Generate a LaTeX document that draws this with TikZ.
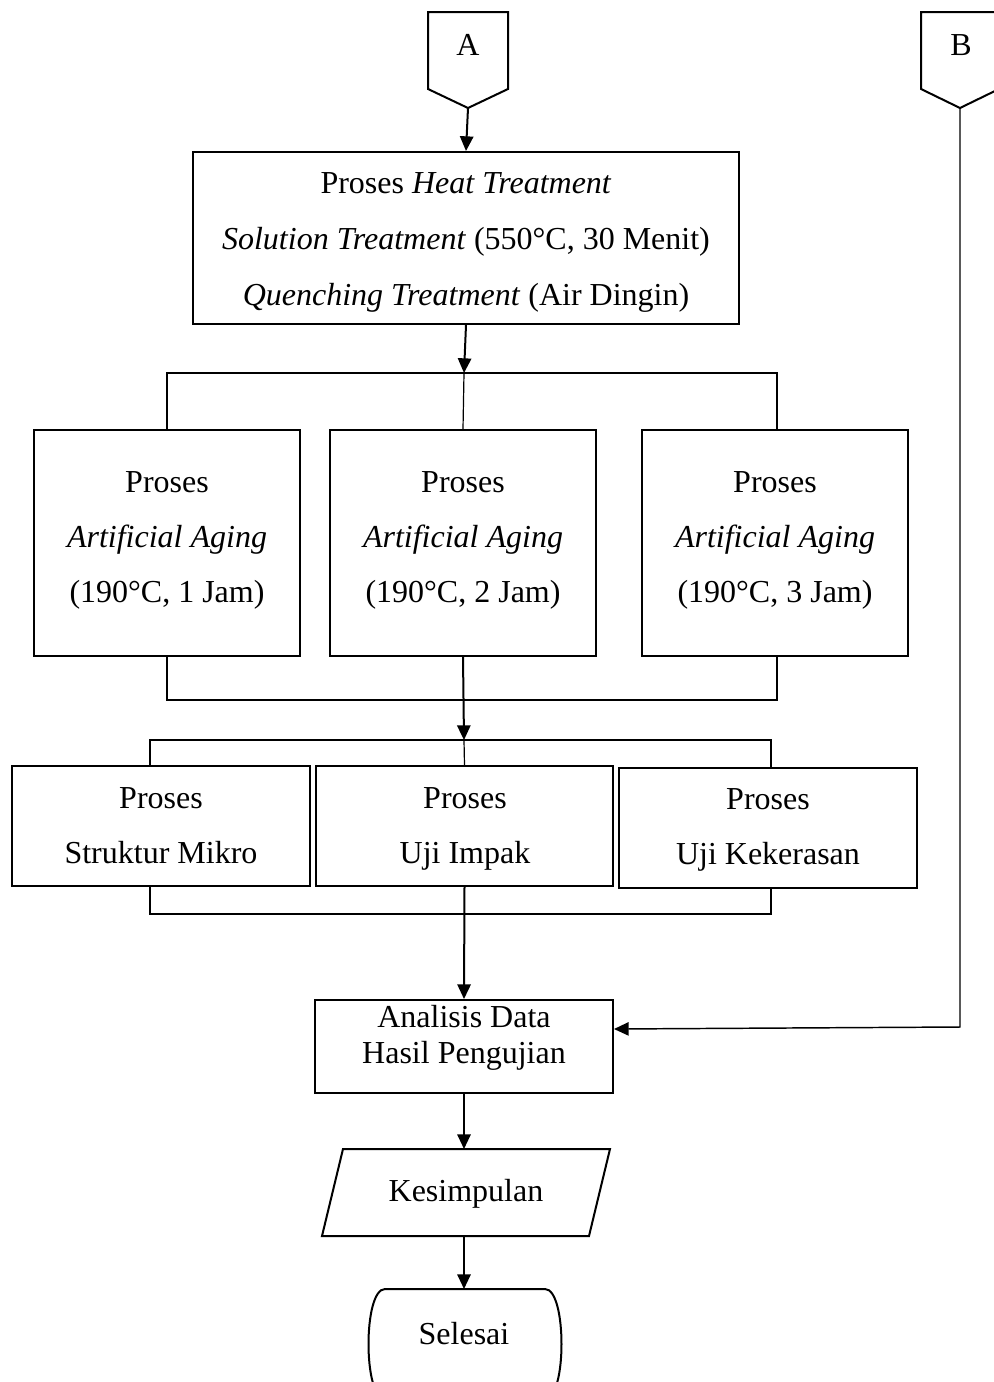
\documentclass[tikz,border=0pt]{standalone}
\usepackage{fontspec}
\setmainfont{Liberation Serif}
\usetikzlibrary{arrows.meta}
\begin{document}
\begin{tikzpicture}[x=0.75pt, y=-0.75pt,
  box/.style={draw, line width=1.5pt, inner sep=0pt},
  sized/.style 2 args={minimum width=#1*0.75pt, minimum height=#2*0.75pt},
  txt/.style={align=center, inner sep=0pt, font=\fontsize{24}{41.25}\selectfont},
  link/.style={line width=0.9pt},
  flow/.style={line width=1.5pt, -{Triangle[length=11pt,width=10pt]}},
  thinflow/.style={line width=1.1pt, -{Triangle[length=11pt,width=10pt]}},
  outline/.style={line width=1.5pt, line join=miter},
]
\useasboundingbox (0,0) rectangle (994,1382);

% off-page connectors A and B
\draw[outline] (428,12) -- (508,12) -- (508,89) -- (468,108) -- (428,89) -- cycle;
\node[txt] (A) at (468,45) {A};
\coordinate (Atip) at (468,108);
\draw[outline] (921,12) -- (999,12) -- (999,89) -- (960,108) -- (921,89) -- cycle;
\node[txt] (B) at (961,45) {B};
\coordinate (Btip) at (960,108);

% heat treatment
\node[box, sized={546}{172}] (heat) at (466,238) {};
\node[txt, font=\fontsize{24}{42}\selectfont] (heatt) at (466,242)
  {Proses \textit{Heat Treatment}\\
   \textit{Solution Treatment} (550°C, 30 Menit)\\
   \textit{Quenching Treatment} (Air Dingin)};

% artificial aging
\node[box, sized={266}{226}] (ag1) at (167,543) {};
\node[box, sized={266}{226}] (ag2) at (463,543) {};
\node[box, sized={266}{226}] (ag3) at (775,543) {};
\node[txt] (ag1t) at (167,540) {Proses\\ \textit{Artificial Aging}\\ (190°C, 1 Jam)};
\node[txt] (ag2t) at (463,540) {Proses\\ \textit{Artificial Aging}\\ (190°C, 2 Jam)};
\node[txt] (ag3t) at (775,540) {Proses\\ \textit{Artificial Aging}\\ (190°C, 3 Jam)};

% tests
\node[box, sized={298}{120}] (r1) at (161,826) {};
\node[box, sized={297}{120}] (r2) at (464.5,826) {};
\node[box, sized={298}{120}] (r3) at (768,828) {};
\node[txt] (r1t) at (161,829) {Proses\\ Struktur Mikro\vphantom{jp}};
\node[txt] (r2t) at (465,829) {Proses\\ Uji Impak\vphantom{jp}};
\node[txt] (r3t) at (768,830) {Proses\\ Uji Kekerasan\vphantom{jp}};

% analysis
\node[box, sized={298}{93}] (an) at (464,1046.5) {};
\node[txt, font=\fontsize{24}{27}\selectfont] (ant) at (464,1037.5) {Analisis Data\\ Hasil Pengujian};

% conclusion (parallelogram)
\draw[outline] (343,1149) -- (610,1149) -- (589,1236) -- (322,1236) -- cycle;
\node[txt] (kes) at (466,1194) {Kesimpulan};
\coordinate (kesN) at (464,1149);
\coordinate (kesS) at (464,1236);

% terminator
\draw[outline] (385,1289) -- (545,1289)
  .. controls (567,1289) and (567,1399) .. (545,1399) -- (385,1399)
  .. controls (363,1399) and (363,1289) .. (385,1289) -- cycle;
\node[txt] (sel) at (464,1334) {Selesai};
\coordinate (selN) at (464,1289);

% connectors
\coordinate (s1) at (464,373);
\coordinate (s2) at (464,700);
\coordinate (s3) at (464,740);
\coordinate (s3l) at (150,740);
\coordinate (s3r) at (771,740);
\coordinate (s4l) at (150,914);
\coordinate (s4r) at (771,914);
\coordinate (bc) at (960,1027);

\draw[flow] (Atip) -- (heat.north);
\draw[flow] (heat.south) -- (s1);
\draw[link] (ag1.north) -- (ag1.north |- s1) -- (777,373) -- (777,430);
\draw[link] (s1) -- (ag2.north);

\draw[link] (ag1.south) -- (ag1.south |- s2) -- (777,700) -- (777,656);
\draw[flow] (ag2.south) -- (s3);
\draw[link] (s3l |- r1.north) -- (s3l) -- (s3r) -- (s3r |- r3.north);
\draw[link] (s3) -- (r2.north);

\draw[link] (s4l |- r1.south) -- (s4l) -- (s4r) -- (s4r |- r3.south);
\draw[flow] (r2.south) -- (an.north);

\draw[thinflow] (Btip) -- (bc) -- (an.east |- 960,1029);

\draw[flow] (an.south) -- (kesN);
\draw[flow] (kesS) -- (selN);
\end{tikzpicture}
\end{document}
